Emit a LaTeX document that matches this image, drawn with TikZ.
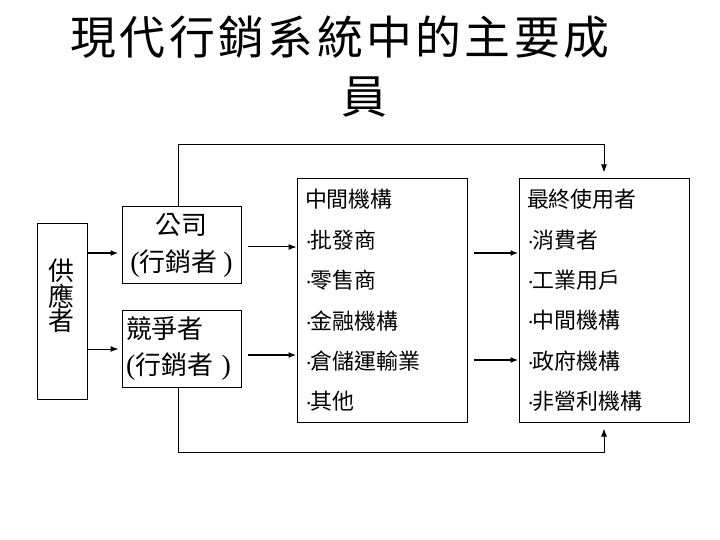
\documentclass[tikz,border=0pt]{standalone}
\usepackage{fontspec}
\setmainfont{Noto Sans CJK TC}
\newfontfamily\titlefont[LetterSpace=7.5]{Noto Sans CJK TC}
\newfontfamily\parenfont{Liberation Serif}
\newfontfamily\dotfont{Liberation Sans}
\usetikzlibrary{arrows.meta}
\usetikzlibrary{positioning}

\tikzset{
  box/.style={draw, line width=1bp, inner sep=0pt},
  listbox/.style={box, minimum width=170bp, minimum height=243bp, text width=154bp,
    inner xsep=8bp, align=left, font=\fontsize{22}{41.6}\selectfont},
  firmbox/.style={box, minimum width=119bp, minimum height=77bp,
    font=\fontsize{26}{37}\selectfont},
  flow/.style={-{Latex[length=8bp,width=6bp]}, line width=1bp},
  bold flow/.style={flow, line width=2bp},
  feedback/.style={flow, shorten >=6bp},
}
\newcommand{\marketer}{{\parenfont\fontsize{28}{37}\selectfont(}行銷者 {\parenfont\fontsize{28}{37}\selectfont)}}
\newcommand{\itemdot}{{\dotfont\kern-1bp·\kern-1.5bp}}

\begin{document}
\begin{tikzpicture}[x=1bp,y=1bp]
                \useasboundingbox (0,0) rectangle (720,-540);
                \node[font=\titlefont\fontsize{46}{60}\selectfont] (title) at (340,-37) {現代行銷系統中的主要成};
                \node[font=\titlefont\fontsize{46}{60}\selectfont] (title_tail) at (364,-97) {員};
                \node[box, minimum width=50bp, minimum height=175bp] (sup) at (62,-311.5) {};
                \node[align=center, inner sep=0pt, font=\fontsize{26}{20}\selectfont] (sup_text) at (61,-296) {供\\應\\者};
                \node[firmbox, minimum height=76bp, align=center] (firm) at (181.5,-245) {公司\\\marketer};
                \node[firmbox, text width=111bp, inner xsep=4bp, align=left] (rival) [below = 26bp of firm] {競爭者\\\marketer};
                \node[listbox] (mid) at (382,-300.5) {中間機構\\\itemdot 批發商\\\itemdot 零售商\\\itemdot 金融機構\\\itemdot 倉儲運輸業\\\itemdot 其他};
                \node[listbox] (end_user) [right = 51bp of mid] {最終使用者\\\itemdot 消費者\\\itemdot 工業用戶\\\itemdot 中間機構\\\itemdot 政府機構\\\itemdot 非營利機構};
                \draw[bold flow, shorten >=3bp] (sup.east |- 0,-253) -- (firm.west |- 0,-253);
                \draw[flow, shorten >=3bp] (sup.east |- 0,-349) -- (rival.west |- 0,-349);
                \draw[flow, shorten <=6bp] (firm.east |- 0,-247) -- (mid.west |- 0,-247);
                \draw[bold flow, shorten <=6bp] (rival.east |- 0,-355) -- (mid.west |- 0,-355);
                \draw[bold flow, shorten <=6bp] (mid.east |- 0,-253) -- (end_user.west |- 0,-253);
                \draw[bold flow, shorten <=6bp] (mid.east |- 0,-360) -- (end_user.west |- 0,-360);
                \draw[feedback] ([xshift=-3.5bp]firm.north) -- ++(0,62) -| (end_user.north);
                \draw[feedback] ([xshift=-3.5bp]rival.south) -- ++(0,-65) -| (end_user.south);
            \end{tikzpicture}
\end{document}
